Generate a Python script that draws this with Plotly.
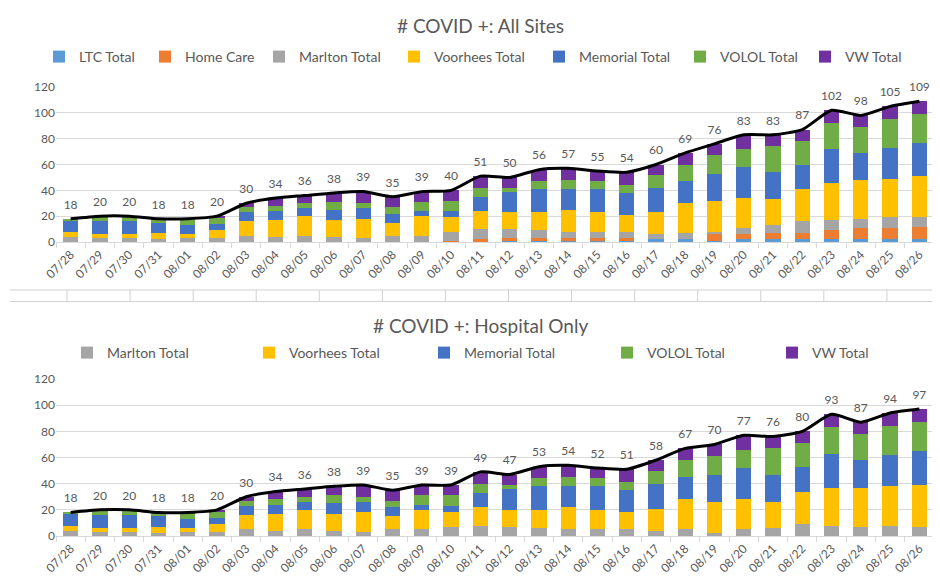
import plotly.graph_objects as go

W, H = 940, 577
BODY = 8  # browser default page margin; the figure is sized to fit inside it

dates = ["07/28", "07/29", "07/30", "07/31", "08/01", "08/02", "08/03", "08/04", "08/05",
         "08/06", "08/07", "08/08", "08/09", "08/10", "08/11", "08/12", "08/13", "08/14",
         "08/15", "08/16", "08/17", "08/18", "08/19", "08/20", "08/21", "08/22", "08/23",
         "08/24", "08/25", "08/26"]

ltc_total = [0, 0, 0, 0, 0, 0, 0, 0, 0, 0, 0, 0, 0, 0, 0, 1, 1, 1, 1, 1, 2, 2, 1, 2, 2, 2, 2, 2, 2, 2]
home_care = [0, 0, 0, 0, 0, 0, 0, 0, 0, 0, 0, 0, 0, 1, 2, 2, 2, 2, 2, 2, 0, 0, 5, 4, 5, 5, 7, 9, 9, 10]
marlton_total = [4, 3, 3, 2, 3, 3, 5, 4, 5, 4, 3, 5, 5, 7, 8, 7, 6, 5, 5, 5, 4, 5, 2, 5, 6, 9, 8, 7, 8, 7]
voorhees_total = [4, 3, 3, 5, 3, 6, 11, 13, 15, 13, 15, 10, 15, 11, 14, 13, 14, 17, 15, 13, 17, 23, 24, 23, 20, 25, 29, 30, 30, 32]
memorial_total = [9, 10, 10, 8, 7, 5, 7, 7, 6, 8, 8, 7, 4, 5, 11, 16, 18, 16, 18, 17, 19, 17, 21, 24, 21, 19, 26, 21, 24, 26]
volol_total = [1, 4, 4, 3, 5, 5, 4, 4, 4, 6, 4, 5, 7, 8, 7, 3, 6, 7, 6, 6, 10, 13, 14, 14, 20, 18, 20, 20, 22, 22]
vw_total = [0, 0, 0, 0, 0, 1, 3, 6, 6, 7, 9, 8, 8, 8, 9, 8, 9, 9, 8, 10, 8, 9, 9, 11, 9, 9, 10, 9, 10, 10]

total_all_sites = [18, 20, 20, 18, 18, 20, 30, 34, 36, 38, 39, 35, 39, 40, 51, 50, 56, 57, 55, 54,
                   60, 69, 76, 83, 83, 87, 102, 98, 105, 109]
total_hospital = [18, 20, 20, 18, 18, 20, 30, 34, 36, 38, 39, 35, 39, 39, 49, 47, 53, 54, 52, 51,
                  58, 67, 70, 77, 76, 80, 93, 87, 94, 97]

y_ticks = [0, 20, 40, 60, 80, 100, 120]

title_top = "# COVID +: All Sites"
title_bottom = "# COVID +: Hospital Only"

FONT = "Lato"
GRAY_TXT = "#595959"
GRID = "#D9D9D9"

top_series = [
    ("LTC Total", ltc_total, "#5B9BD5"),
    ("Home Care", home_care, "#ED7D31"),
    ("Marlton Total", marlton_total, "#A5A5A5"),
    ("Voorhees Total", voorhees_total, "#FFC000"),
    ("Memorial Total", memorial_total, "#4472C4"),
    ("VOLOL Total", volol_total, "#70AD47"),
    ("VW Total", vw_total, "#7030A0"),
]
bottom_series = top_series[2:]

# legend marker left positions (px, page coords) from the reference
top_leg_x = [67, 173, 287, 422, 567, 708, 833]
bot_leg_x = [95, 277, 452, 635, 800]

FW, FH = W - BODY, H - BODY

def px_x(p):
    return (p - BODY) / FW

def px_y(p):
    return 1 - (p - BODY) / FH

fig = go.Figure()
layout_legends = {}
leg_idx = 1

def legend_name(i):
    return "legend" if i == 1 else f"legend{i}"

def add_legend(ln, lx, ly):
    layout_legends[ln] = dict(x=px_x(lx - 28), y=px_y(ly), xanchor="left", yanchor="middle",
                              orientation="h", bgcolor="rgba(0,0,0,0)", itemwidth=30,
                              font=dict(family=FONT, size=14, color=GRAY_TXT))

for (name, vals, col), lx in zip(top_series, top_leg_x):
    ln = legend_name(leg_idx)
    fig.add_trace(go.Bar(x=dates, y=vals, name=name, marker_color=col, marker_line_width=0,
                         xaxis="x", yaxis="y", legend=ln))
    add_legend(ln, lx, 57)
    leg_idx += 1

for (name, vals, col), lx in zip(bottom_series, bot_leg_x):
    ln = legend_name(leg_idx)
    fig.add_trace(go.Bar(x=dates, y=vals, name=name, marker_color=col, marker_line_width=0,
                         xaxis="x2", yaxis="y2", legend=ln))
    add_legend(ln, lx, 353)
    leg_idx += 1

for totals, xa, ya in ((total_all_sites, "x", "y"), (total_hospital, "x2", "y2")):
    fig.add_trace(go.Scatter(x=dates, y=totals, mode="lines+markers+text", text=totals,
                             textposition="top center",
                             textfont=dict(family=FONT, size=12, color=GRAY_TXT),
                             marker=dict(size=10, opacity=0),
                             line=dict(color="black", width=3, shape="spline", smoothing=0.6),
                             showlegend=False, cliponaxis=False, hoverinfo="x+y",
                             xaxis=xa, yaxis=ya))

xrange = [-0.5, len(dates) - 0.5]
xdom = [px_x(56), px_x(934)]
xaxis_common = dict(domain=xdom, type="category", range=xrange, tickangle=-45, showgrid=False,
                    automargin=False, showline=True, linecolor=GRID, linewidth=1,
                    ticks="outside", tickson="boundaries", ticklen=5, tickcolor=GRID,
                    tickfont=dict(family=FONT, size=12, color=GRAY_TXT))
yaxis_common = dict(range=[0, 120], tickvals=y_ticks, showgrid=True, gridcolor=GRID, gridwidth=1,
                    zeroline=False, showline=False, ticks="", automargin=False,
                    tickfont=dict(family=FONT, size=12, color=GRAY_TXT))

shapes = []
# table-like frame between the two charts
for yy in (290, 301.5):
    shapes.append(dict(type="line", xref="paper", yref="paper", x0=px_x(10), x1=px_x(940),
                       y0=px_y(yy), y1=px_y(yy), line=dict(color="#D0D0D0", width=1)))
for k in range(14):
    xx = 67 + 63.07 * k
    shapes.append(dict(type="line", xref="paper", yref="paper", x0=px_x(xx), x1=px_x(xx),
                       y0=px_y(290), y1=px_y(301.5), line=dict(color="#D0D0D0", width=1)))

fig.update_layout(
    width=FW, height=FH,
    margin=dict(l=0, r=0, t=0, b=0, autoexpand=False),
    paper_bgcolor="white", plot_bgcolor="white",
    barmode="stack", bargap=0.48,
    font=dict(family=FONT, color=GRAY_TXT),
    xaxis=dict(**xaxis_common, anchor="y"),
    yaxis=dict(**yaxis_common, domain=[px_y(242), px_y(87)], anchor="x"),
    xaxis2=dict(**xaxis_common, anchor="y2"),
    yaxis2=dict(**yaxis_common, domain=[px_y(536), px_y(379)], anchor="x2"),
    annotations=[
        dict(text=title_top, xref="paper", yref="paper", x=px_x(480), y=px_y(25),
             xanchor="center", yanchor="middle",
             showarrow=False, font=dict(family=FONT, size=19, color=GRAY_TXT)),
        dict(text=title_bottom, xref="paper", yref="paper", x=px_x(480), y=px_y(325),
             xanchor="center", yanchor="middle",
             showarrow=False, font=dict(family=FONT, size=19, color=GRAY_TXT)),
    ],
    shapes=shapes,
    **layout_legends,
)

fig.write_html("out.html")
